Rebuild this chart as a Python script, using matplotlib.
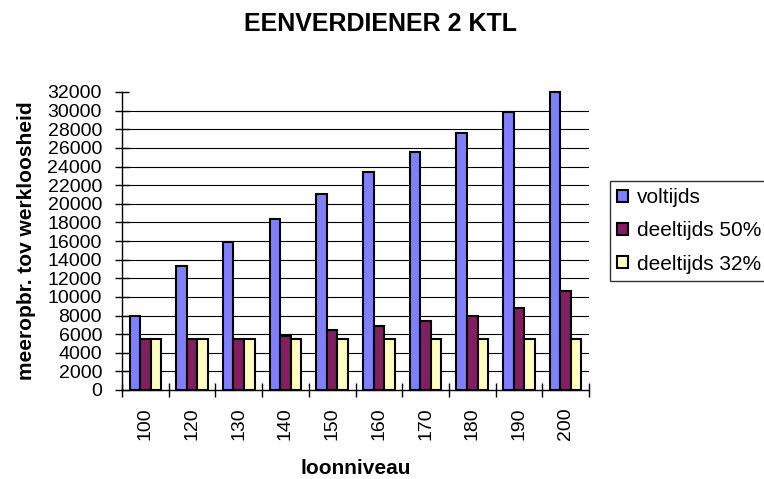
import matplotlib
matplotlib.use("Agg")
import matplotlib.pyplot as plt
import numpy as np

plt.rcParams['font.family'] = ['Liberation Sans', 'DejaVu Sans']

categories = ["100", "120", "130", "140", "150", "160", "170", "180", "190", "200"]
voltijds = [8000, 13300, 15850, 18400, 21000, 23400, 25600, 27650, 29800, 32000]
deeltijds50 = [5500, 5500, 5500, 5850, 6400, 6850, 7400, 8000, 8800, 10650]
deeltijds32 = [5500, 5500, 5500, 5500, 5500, 5500, 5500, 5500, 5500, 5500]
series = [("voltijds", voltijds, "#8080FF"),
          ("deeltijds 50%", deeltijds50, "#802060"),
          ("deeltijds 32%", deeltijds32, "#FFFFC0")]

W, H = 764, 479
fig = plt.figure(figsize=(W / 100, H / 100), dpi=100)
ax_l, ax_r, ax_t, ax_b = 122, 589, 92, 390
ax = fig.add_axes([ax_l / W, 1 - ax_b / H, (ax_r - ax_l) / W, (ax_b - ax_t) / H])

x = np.arange(len(categories))
w = 0.225
for i, (name, vals, col) in enumerate(series):
    ax.bar(x + (i - 1) * w, vals, width=w, color=col, edgecolor="black",
           linewidth=1.5, label=name, zorder=3, clip_on=False)

ax.set_xlim(-0.5, len(categories) - 0.5)
ax.set_ylim(0, 32000)
ax.set_yticks(np.arange(0, 32001, 2000))
ax.tick_params(axis='y', labelsize=14, direction='inout', length=10, width=1, pad=9.4)
for yv in np.arange(2000, 32000, 2000):
    ax.axhline(yv, color="black", linewidth=0.8, zorder=1)

ax.set_xticks(x)
ax.set_xticklabels(categories, rotation=90, fontsize=14)
ax.tick_params(axis='x', length=0, pad=12.5)
ax.set_xticks(np.arange(-0.5, len(categories), 1.0), minor=True)
ax.tick_params(axis='x', which='minor', direction='inout', length=9.4, width=1)

for s in ["top", "right"]:
    ax.spines[s].set_visible(False)
ax.spines["left"].set_linewidth(1)
ax.spines["bottom"].set_linewidth(1)

ax.set_ylabel("meeropbr. tov werkloosheid", fontsize=15, fontweight="bold", labelpad=8)
fig.text((ax_l + ax_r) / 2 / W, 1 - 474 / H, "loonniveau", ha="center", va="baseline",
         fontsize=15, fontweight="bold")
fig.text(381 / W, 1 - 31 / H, "EENVERDIENER 2 KTL", ha="center", va="baseline",
         fontsize=18, fontweight="bold")

leg = fig.legend(loc="upper left", bbox_to_anchor=(610 / W, 1 - 181 / H), fontsize=15,
                 frameon=True, fancybox=False, edgecolor="black",
                 handlelength=0.5, handleheight=0.5, handletextpad=0.45,
                 borderpad=0.35, labelspacing=0.68, borderaxespad=0)
leg.get_frame().set_linewidth(1)
for h in leg.legend_handles:
    h.set_linewidth(1.5)

fig.savefig("out.png", dpi=100)
